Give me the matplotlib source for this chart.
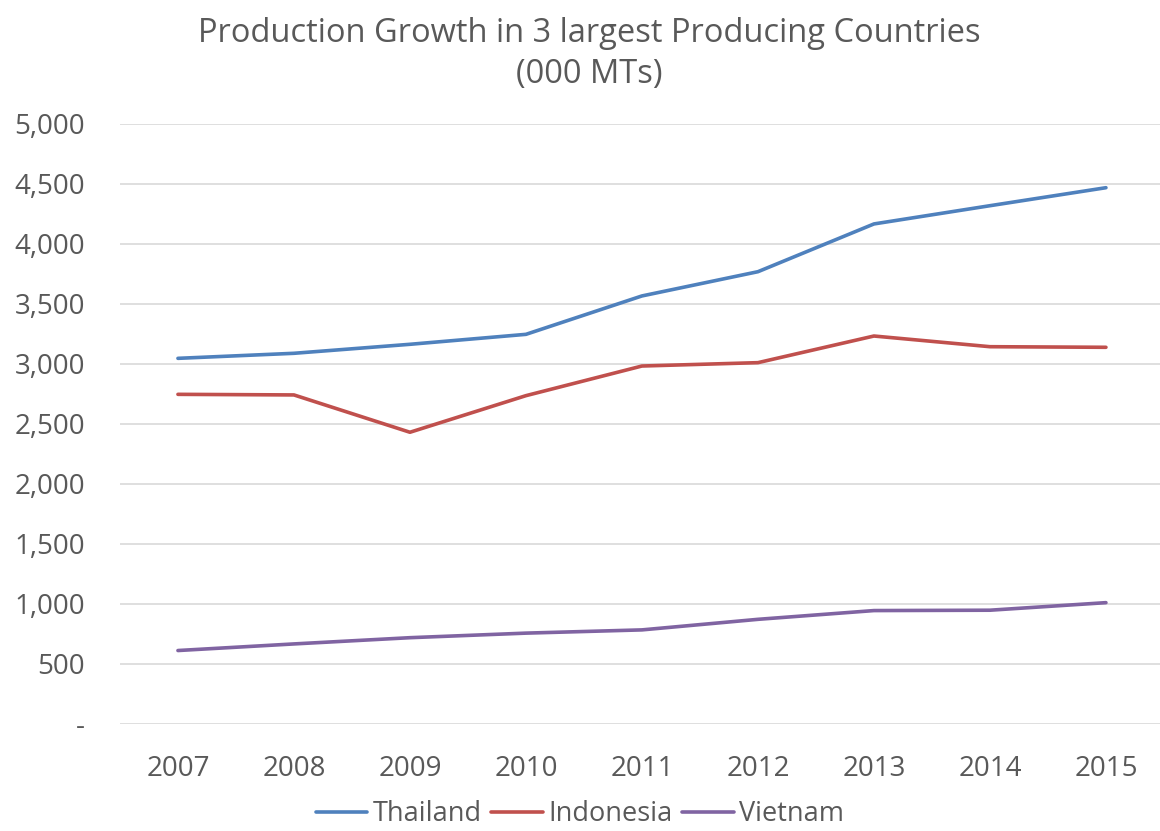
import matplotlib
matplotlib.use('Agg')
import matplotlib.pyplot as plt
from matplotlib.ticker import FuncFormatter

years = ['2007', '2008', '2009', '2010', '2011', '2012', '2013', '2014', '2015']
thailand = [3047, 3089, 3164, 3247, 3567, 3769, 4167, 4319, 4469]
indonesia = [2747, 2742, 2431, 2736, 2983, 3011, 3233, 3144, 3139]
vietnam = [612, 667, 719, 757, 784, 872, 945, 948, 1011]

SERIES = ['Thailand', 'Indonesia', 'Vietnam']
COLORS = ['#4F81BD', '#C0504D', '#8064A2']
TEXT = '#595959'

plt.rcParams['font.family'] = ['Open Sans', 'DejaVu Sans']

fig = plt.figure(figsize=(11.6, 8.31), dpi=100)
ax = fig.add_axes([0.1034, 0.1288, 0.9, 0.7220])

x = range(len(years))
for name, vals, c in zip(SERIES, [thailand, indonesia, vietnam], COLORS):
    ax.plot(x, vals, color=c, linewidth=2.6, label=name, solid_capstyle='round')

ax.set_xlim(-0.5, 8.5)
ax.set_ylim(0, 5000)
ax.set_yticks(range(0, 5001, 500))
ax.yaxis.set_major_formatter(FuncFormatter(lambda v, p: '-' if v == 0 else f'{int(v):,}'))
ax.set_xticks(list(x))
ax.set_xticklabels(years)

ax.grid(axis='y', color='#D9D9D9', linewidth=1.2)
ax.set_axisbelow(True)
for s in ax.spines.values():
    s.set_visible(False)
ax.tick_params(axis='both', length=0, labelsize=20, colors=TEXT)
ax.tick_params(axis='y', pad=25)
ax.tick_params(axis='x', pad=22)

fig.text(0.508, 0.935, 'Production Growth in 3 largest Producing Countries\n(000 MTs)',
         ha='center', va='center', fontsize=23.5, color=TEXT, linespacing=1.35)

fig.legend(loc='center', bbox_to_anchor=(0.5, 0.02), ncol=3, frameon=False,
           fontsize=19.5, labelcolor=TEXT, handlelength=1.9, handletextpad=0.2,
           columnspacing=0.35, borderpad=0.1)

fig.savefig('out.png', dpi=100, facecolor='white')
